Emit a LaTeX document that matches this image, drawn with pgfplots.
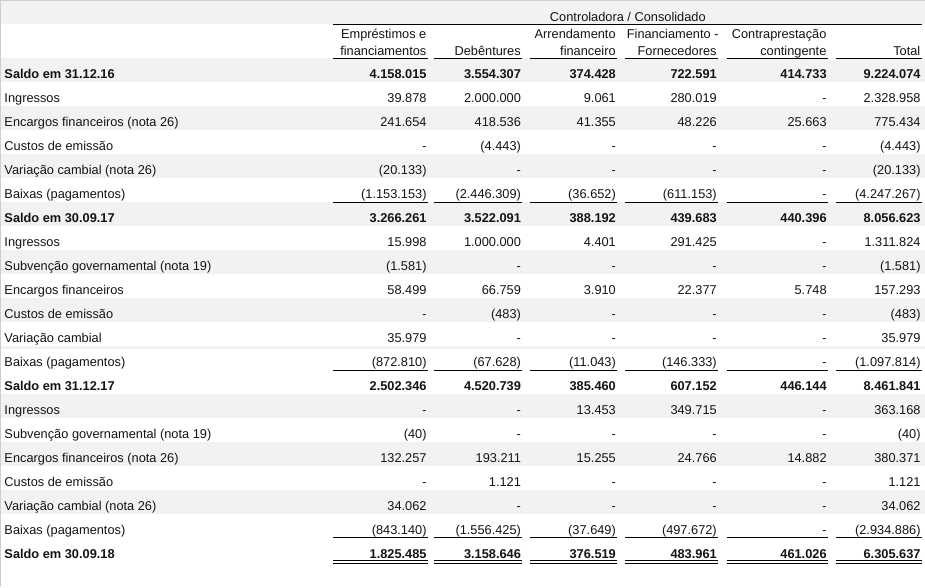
\documentclass[border=0pt]{standalone}
\usepackage{pgfplots}
\pgfplotsset{compat=1.18}
\usepackage{pgfplotstable}
\usepackage{fontspec}
\setmainfont{Liberation Sans}
\definecolor{band}{RGB}{242,242,242}
\definecolor{edge}{RGB}{205,205,205}
\definecolor{ink}{RGB}{20,20,20}

\pgfplotstableread[col sep=comma]{
k,label,emp,deb,arr,fin,con,tot
1,Ingressos,39.878,2.000.000,9.061,280.019,-,2.328.958
2,Encargos financeiros (nota 26),241.654,418.536,41.355,48.226,25.663,775.434
3,Custos de emissão,-,(4.443),-,-,-,(4.443)
4,Variação cambial (nota 26),(20.133),-,-,-,-,(20.133)
5,Baixas (pagamentos),(1.153.153),(2.446.309),(36.652),(611.153),-,(4.247.267)
7,Ingressos,15.998,1.000.000,4.401,291.425,-,1.311.824
8,Subvenção governamental (nota 19),(1.581),-,-,-,-,(1.581)
9,Encargos financeiros,58.499,66.759,3.910,22.377,5.748,157.293
10,Custos de emissão,-,(483),-,-,-,(483)
11,Variação cambial,35.979,-,-,-,-,35.979
12,Baixas (pagamentos),(872.810),(67.628),(11.043),(146.333),-,(1.097.814)
14,Ingressos,-,-,13.453,349.715,-,363.168
15,Subvenção governamental (nota 19),(40),-,-,-,-,(40)
16,Encargos financeiros (nota 26),132.257,193.211,15.255,24.766,14.882,380.371
17,Custos de emissão,-,1.121,-,-,-,1.121
18,Variação cambial (nota 26),34.062,-,-,-,-,34.062
19,Baixas (pagamentos),(843.140),(1.556.425),(37.649),(497.672),-,(2.934.886)
}\mov

\pgfplotstableread[col sep=comma]{
k,label,emp,deb,arr,fin,con,tot
0,Saldo em 31.12.16,4.158.015,3.554.307,374.428,722.591,414.733,9.224.074
6,Saldo em 30.09.17,3.266.261,3.522.091,388.192,439.683,440.396,8.056.623
13,Saldo em 31.12.17,2.502.346,4.520.739,385.460,607.152,446.144,8.461.841
20,Saldo em 30.09.18,1.825.485,3.158.646,376.519,483.961,461.026,6.305.637
}\sal

% #1 table, #2 column, #3 x, #4 font, #5 r or l
\newcommand{\cells}[5]{%
  \addplot[only marks, mark=*, mark size=0pt, mark options={draw=none,fill=none},
    point meta=explicit symbolic,
    nodes near coords={\smash{\makebox[0pt][#5]{\pgfplotspointmeta}}},
    every node near coord/.append style={inner sep=0pt, outer sep=0pt, font=#4, text=ink}]
    table[x expr=#3, y expr=79+24*\thisrow{k}, meta=#2] {#1};%
}

\begin{document}
\fontsize{12.8bp}{15bp}\selectfont
\begin{tikzpicture}
\begin{axis}[width=925bp, height=587bp, scale only axis,
  xmin=0, xmax=925, ymin=0, ymax=587, y dir=reverse,
  hide axis, clip=false]
% background
\fill[white] (axis cs:0,0) rectangle (axis cs:925,587);
\fill[band] (axis cs:0,0) rectangle (axis cs:925,24);
\pgfplotsinvokeforeach{0,2,4,6,8,10,14,16,18}{
  \fill[band] (axis cs:0,{58+24*#1}) rectangle (axis cs:925,{82+24*#1});
}
\fill[band] (axis cs:0,346) rectangle (axis cs:925,349);
\draw[edge, line width=1bp] (axis cs:0.5,0) -- (axis cs:0.5,587);
\draw[edge, line width=1bp] (axis cs:0,0.5) -- (axis cs:925,0.5);

% header
\node[anchor=base, inner sep=0pt, text=ink] at (axis cs:628,20.7) {Controladora / Consolidado};
\draw[black, line width=1bp] (axis cs:333,24) -- (axis cs:922,24);
\node[anchor=base east, inner sep=0pt, text=ink] at (axis cs:426.5,38) {Empréstimos e};
\node[anchor=base east, inner sep=0pt, text=ink] at (axis cs:426.5,55) {financiamentos};
\node[anchor=base east, inner sep=0pt, text=ink] at (axis cs:521,55) {Debêntures};
\node[anchor=base east, inner sep=0pt, text=ink] at (axis cs:616,38) {Arrendamento};
\node[anchor=base east, inner sep=0pt, text=ink] at (axis cs:616,55) {financeiro};
\node[anchor=base east, inner sep=0pt, text=ink] at (axis cs:719,38) {Financiamento -};
\node[anchor=base east, inner sep=0pt, text=ink] at (axis cs:717,55) {Fornecedores};
\node[anchor=base east, inner sep=0pt, text=ink] at (axis cs:827,38) {Contraprestação};
\node[anchor=base east, inner sep=0pt, text=ink] at (axis cs:827,55) {contingente};
\node[anchor=base east, inner sep=0pt, text=ink] at (axis cs:921,55) {Total};

% rules
\pgfplotsinvokeforeach{58,202,370,538,561,564}{
  \draw[black, line width=1bp] (axis cs:333,#1) -- (axis cs:428,#1);
  \draw[black, line width=1bp] (axis cs:434,#1) -- (axis cs:522,#1);
  \draw[black, line width=1bp] (axis cs:530,#1) -- (axis cs:617,#1);
  \draw[black, line width=1bp] (axis cs:625,#1) -- (axis cs:718,#1);
  \draw[black, line width=1bp] (axis cs:727,#1) -- (axis cs:828,#1);
  \draw[black, line width=1bp] (axis cs:836,#1) -- (axis cs:922,#1);
}

% cells
\cells{\mov}{label}{4}{\normalfont}{l}
\cells{\mov}{emp}{426.5}{\normalfont}{r}
\cells{\mov}{deb}{521}{\normalfont}{r}
\cells{\mov}{arr}{616}{\normalfont}{r}
\cells{\mov}{fin}{717}{\normalfont}{r}
\cells{\mov}{con}{827}{\normalfont}{r}
\cells{\mov}{tot}{921}{\normalfont}{r}
\cells{\sal}{label}{4}{\bfseries}{l}
\cells{\sal}{emp}{426.5}{\bfseries}{r}
\cells{\sal}{deb}{521}{\bfseries}{r}
\cells{\sal}{arr}{616}{\bfseries}{r}
\cells{\sal}{fin}{717}{\bfseries}{r}
\cells{\sal}{con}{827}{\bfseries}{r}
\cells{\sal}{tot}{921}{\bfseries}{r}
\end{axis}
\end{tikzpicture}
\end{document}
